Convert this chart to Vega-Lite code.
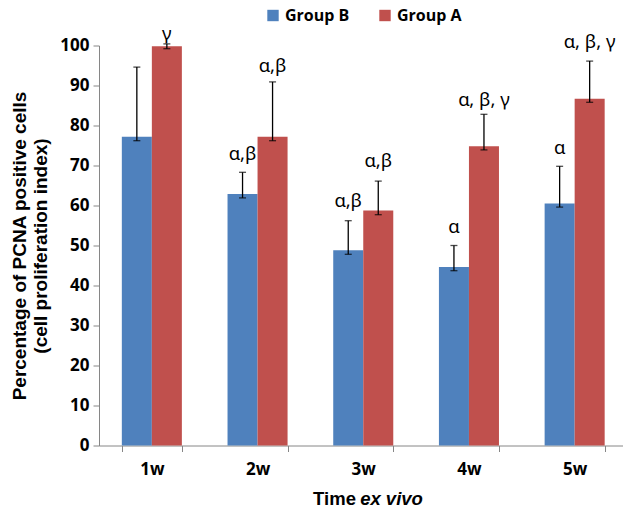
{
  "$schema": "https://vega.github.io/schema/vega-lite/v6.json",
  "width": 524,
  "height": 400,
  "autosize": {"type": "none"},
  "padding": {"left": 99, "top": 45.5, "right": 0, "bottom": 65.5},
  "config": {
    "view": {"stroke": null},
    "font": "Open Sans"
  },
  "data": {
    "values": [
      {"week": "1w", "group": "Group B", "value": 77.2, "lo": 76.2, "hi": 94.6, "label": "", "ly": 0},
      {"week": "1w", "group": "Group A", "value": 99.8, "lo": 99.2, "hi": 100.4, "label": "γ", "ly": 103},
      {"week": "2w", "group": "Group B", "value": 62.9, "lo": 61.9, "hi": 68.3, "label": "α,β", "ly": 73},
      {"week": "2w", "group": "Group A", "value": 77.2, "lo": 76.2, "hi": 90.9, "label": "α,β", "ly": 94.8},
      {"week": "3w", "group": "Group B", "value": 48.8, "lo": 47.8, "hi": 56.2, "label": "α,β", "ly": 61.1},
      {"week": "3w", "group": "Group A", "value": 58.75, "lo": 57.7, "hi": 66.1, "label": "α,β", "ly": 71.2},
      {"week": "4w", "group": "Group B", "value": 44.6, "lo": 43.7, "hi": 50.0, "label": "α", "ly": 54.75},
      {"week": "4w", "group": "Group A", "value": 74.8, "lo": 73.9, "hi": 82.8, "label": "α, β, γ", "ly": 86.5},
      {"week": "5w", "group": "Group B", "value": 60.5, "lo": 59.6, "hi": 69.8, "label": "α", "ly": 74.4},
      {"week": "5w", "group": "Group A", "value": 86.7, "lo": 85.8, "hi": 96.1, "label": "α, β, γ", "ly": 101}
    ]
  },
  "layer": [
    {
      "mark": {"type": "bar"},
      "encoding": {
        "x": {
          "field": "week", "type": "nominal",
          "scale": {"range": [0, 528.5], "paddingInner": 0.432, "paddingOuter": 0.216},
          "axis": {
            "labelAngle": 0, "tickBand": "extent", "tickSize": 6, "labelPadding": 10,
            "labelFont": "Open Sans", "labelFontSize": 17, "labelFontWeight": "bold", "labelColor": "#000000",
            "domainColor": "#868686", "tickColor": "#868686", "grid": false,
            "title": "Time", "titleFont": "Liberation Sans", "titleFontSize": 18.5, "titleFontWeight": "bold",
            "titleColor": "#000000", "titleX": 235, "titleY": 53, "titleAlign": "center", "titleBaseline": "middle", "titleAnchor": null
          }
        },
        "xOffset": {"field": "group", "type": "nominal", "scale": {"domain": ["Group B", "Group A"]}},
        "y": {
          "field": "value", "type": "quantitative",
          "scale": {"domain": [0, 100], "nice": false},
          "axis": {
            "tickCount": 12, "grid": false, "labelOverlap": false,
            "tickSize": 6, "labelPadding": 4,
            "labelFont": "Open Sans", "labelFontSize": 17, "labelFontWeight": "bold", "labelColor": "#000000",
            "domainColor": "#868686", "tickColor": "#868686",
            "title": ["Percentage of PCNA positive cells", "(cell proliferation index)"],
            "titleFont": "Liberation Sans", "titleFontSize": 19, "titleFontWeight": "bold", "titleColor": "#000000",
            "titleLineHeight": 21, "titleX": -80, "titleY": 200, "titleAlign": "center", "titleBaseline": "middle", "titleAngle": -90
          }
        },
        "color": {
          "field": "group", "type": "nominal",
          "scale": {"domain": ["Group B", "Group A"], "range": ["#4F81BD", "#C0504D"]},
          "legend": {
            "orient": "none", "legendX": 166, "legendY": -38, "direction": "horizontal", "title": null,
            "symbolType": "square", "symbolSize": 130, "symbolStrokeWidth": 0, "symbolOpacity": 1,
            "labelFont": "Open Sans", "labelFontSize": 16, "labelFontWeight": "bold", "labelColor": "#000000",
            "columnPadding": 27, "labelOffset": 4
          }
        }
      }
    },
    {
      "mark": {"type": "rule", "color": "#000000", "strokeWidth": 1.3},
      "encoding": {
        "x": {"field": "week", "type": "nominal", "axis": null},
        "xOffset": {"field": "group", "type": "nominal"},
        "y": {"field": "lo", "type": "quantitative"},
        "y2": {"field": "hi"}
      }
    },
    {
      "mark": {"type": "tick", "color": "#000000", "size": 7, "thickness": 1.3, "orient": "horizontal"},
      "encoding": {
        "x": {"field": "week", "type": "nominal", "axis": null},
        "xOffset": {"field": "group", "type": "nominal"},
        "y": {"field": "lo", "type": "quantitative"}
      }
    },
    {
      "mark": {"type": "tick", "color": "#000000", "size": 7, "thickness": 1.3, "orient": "horizontal"},
      "encoding": {
        "x": {"field": "week", "type": "nominal", "axis": null},
        "xOffset": {"field": "group", "type": "nominal"},
        "y": {"field": "hi", "type": "quantitative"}
      }
    },
    {
      "mark": {"type": "text", "font": "Noto Sans", "fontSize": 18.5, "baseline": "middle", "align": "center", "color": "#000000"},
      "encoding": {
        "x": {
          "field": "week", "type": "nominal",
          "axis": {
            "orient": "top", "domain": false, "ticks": false, "labels": false, "grid": false,
            "title": "ex vivo", "titleFont": "Liberation Sans", "titleFontSize": 18.5, "titleFontWeight": "bold",
            "titleFontStyle": "italic", "titleColor": "#000000",
            "titleX": 292, "titleY": 452.5, "titleAlign": "center", "titleBaseline": "middle", "titleAnchor": null
          }
        },
        "xOffset": {"field": "group", "type": "nominal"},
        "y": {"field": "ly", "type": "quantitative"},
        "text": {"field": "label"}
      }
    }
  ],
  "resolve": {"axis": {"x": "independent"}}
}
